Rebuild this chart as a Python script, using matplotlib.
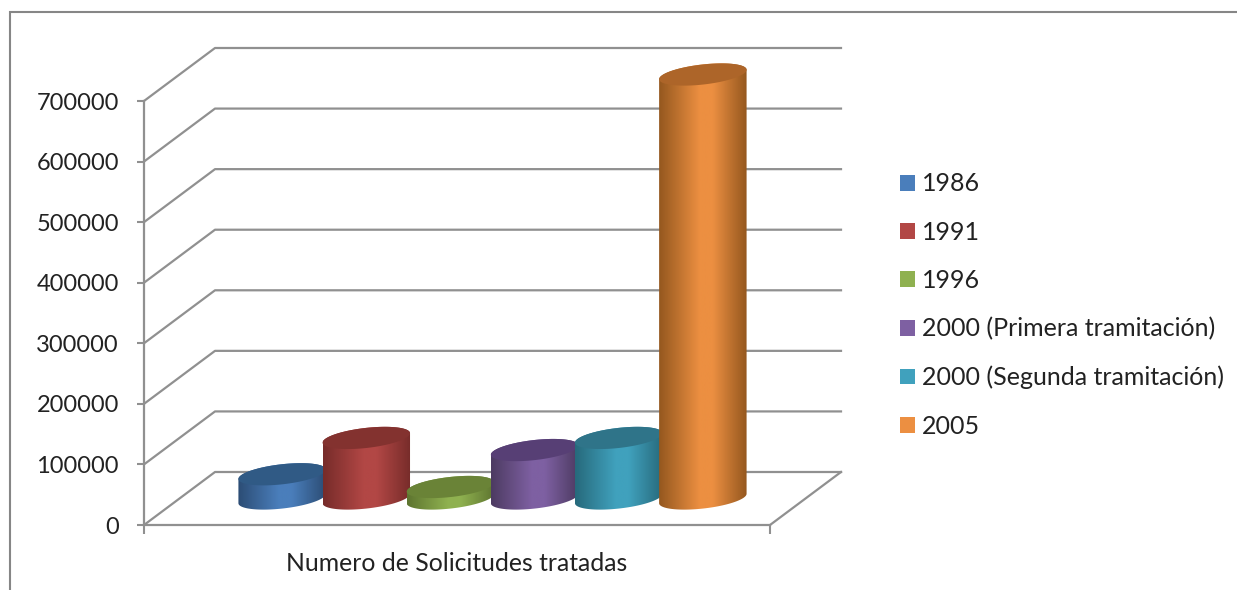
import numpy as np
import matplotlib
matplotlib.use('Agg')
import matplotlib.pyplot as plt
from matplotlib.colors import LinearSegmentedColormap
from matplotlib.lines import Line2D
from matplotlib.patches import Patch, Polygon, Rectangle
from matplotlib.transforms import IdentityTransform

plt.rcParams['font.family'] = ['Lato', 'DejaVu Sans']

years = ['1986', '1991', '1996', '2000 (Primera tramitación)',
         '2000 (Segunda tramitación)', '2005']
solicitudes = [40000, 100000, 19000, 80000, 100000, 700000]
y_ticks = [0, 100000, 200000, 300000, 400000, 500000, 600000, 700000]
x_label = 'Numero de Solicitudes tratadas'

base_colors = ['#4A7EBB', '#B24745', '#8FB150', '#7E60A2', '#40A1BD', '#EC8F41']
edge_colors = ['#2C4D75', '#772C2A', '#5E7530', '#4D3B62', '#276A7C', '#95581F']
top_colors = ['#305A85', '#83322F', '#6A8337', '#573F75', '#2F7489', '#AD6529']

W, H = 1237, 590
GREY = '#909090'
TEXT = '#222222'
DEPTH = (71, 53)     # pixels between front and back wall
A, B, TILT = 44, 10.0, np.radians(6.5)   # cylinder ellipse


def ellipse_points(cx, cy, t):
    x = cx + A * np.cos(t) * np.cos(TILT) - B * np.sin(t) * np.sin(TILT)
    y = cy + A * np.cos(t) * np.sin(TILT) + B * np.sin(t) * np.cos(TILT)
    return np.column_stack([x, y])


def draw_cylinder(ax, i, value, z):
    # bars stand halfway into the depth of the floor
    base = ax.transData.transform((i, 0)) + np.array(DEPTH) / 2
    top = ax.transData.transform((i, value)) + np.array(DEPTH) / 2
    t0 = np.arctan2(-B * np.sin(TILT), A * np.cos(TILT))
    lower = ellipse_points(base[0], base[1], np.linspace(t0 + np.pi, t0 + 2 * np.pi, 80))
    upper = ellipse_points(top[0], top[1], np.linspace(t0, t0 + np.pi, 80))
    body = Polygon(np.vstack([lower, upper]), closed=True, transform=IdentityTransform(),
                   fc='none', ec='none', zorder=z, clip_on=False)
    ax.add_patch(body)
    cmap = LinearSegmentedColormap.from_list('c', [edge_colors[i], base_colors[i], base_colors[i], edge_colors[i]])
    grad = np.interp(np.linspace(0, 1, 128), [0, 0.5, 0.58, 1], [0, 0.36, 0.64, 1])[None, :]
    left, right = lower[:, 0].min(), lower[:, 0].max()
    img = ax.imshow(grad, cmap=cmap, aspect='auto', transform=IdentityTransform(),
                    extent=(left, right, base[1] - 14, top[1] + 14), zorder=z, vmin=0, vmax=1)
    img.set_clip_box(fig.bbox)
    img.set_clip_path(body)
    cap = ellipse_points(top[0], top[1], np.linspace(0, 2 * np.pi, 120))
    ax.add_patch(Polygon(cap, closed=True, transform=IdentityTransform(),
                         fc=top_colors[i], ec='none', zorder=z + 0.5, clip_on=False))


fig = plt.figure(figsize=(W / 100, H / 100), dpi=100, facecolor='white')
fig.add_artist(Rectangle((9.5 / W, -0.1), 1.2, 0.1 + 1 - 11.5 / H, transform=fig.transFigure,
                         fc='none', ec='#868686', lw=1.5))

ax = fig.add_axes([144 / W, 1 - 525 / H, 626 / W, 424 / H])
ax.patch.set_alpha(0)
ax.set_xlim(-1.22, 6.22)
ax.set_ylim(0, 700000)
ax.set_yticks(y_ticks)
ax.set_xticks([-1.22, 6.22])
ax.set_xticklabels(['', ''])
ax.tick_params(axis='y', length=5, width=1.5, color=GREY, labelsize=17, labelcolor=TEXT, pad=13)
ax.tick_params(axis='x', length=6.5, width=1.5, color=GREY)
ax.set_xlabel(x_label, fontsize=17.8, color=TEXT, labelpad=9.5)
for side in ['top', 'right']:
    ax.spines[side].set_visible(False)
for side in ['left', 'bottom']:
    ax.spines[side].set_color(GREY)
    ax.spines[side].set_linewidth(1.6)

# back wall lines and floor
for v in y_ticks:
    p = ax.transData.transform((-1.22, v))
    q = ax.transData.transform((6.22, v))
    ax.add_line(Line2D([p[0], p[0] + DEPTH[0], q[0] + DEPTH[0]], [p[1], p[1] + DEPTH[1], q[1] + DEPTH[1]],
                       transform=IdentityTransform(), color=GREY, lw=1.6, clip_on=False, zorder=1))
p = ax.transData.transform((6.22, 0))
ax.add_line(Line2D([p[0], p[0] + DEPTH[0]], [p[1], p[1] + DEPTH[1]], transform=IdentityTransform(),
                   color=GREY, lw=1.6, clip_on=False, zorder=1))

for i, val in enumerate(solicitudes):
    draw_cylinder(ax, i, val, 3 + i)

ax.set_xlim(-1.22, 6.22)
ax.set_ylim(0, 700000)

handles = [Patch(fc=c, ec='none') for c in base_colors]
fig.legend(handles, years, loc='center left', bbox_to_anchor=(900 / W, 1 - 305 / H), frameon=False,
           fontsize=18, labelcolor=TEXT, handlelength=0.6, handleheight=0.6, handletextpad=0.28,
           labelspacing=1.01, borderpad=0, borderaxespad=0)

fig.savefig('out.png', dpi=100)
